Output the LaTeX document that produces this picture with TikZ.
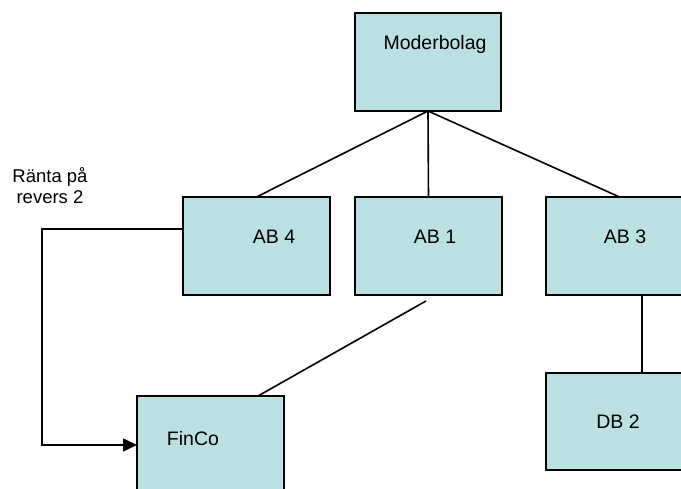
\documentclass[tikz,border=0pt]{standalone}
\usepackage{fontspec}
\setmainfont{Liberation Sans}
\usetikzlibrary{arrows.meta,calc}
\definecolor{boxfill}{RGB}{187,224,227}
\begin{document}
\begin{tikzpicture}[x=1pt,y=-1pt,
  box/.style={draw=black,fill=boxfill,line width=2pt,rectangle,inner sep=0pt,outer sep=0pt},
  lbl/.style={font=\fontsize{19.5}{22}\selectfont,inner sep=0pt,text height=13.5pt,text depth=0pt},
  conn/.style={line width=1.6pt}]
\useasboundingbox (0,0) rectangle (681,489);
\clip (0,0) rectangle (681,489);
\node[box,minimum width=146pt,minimum height=98pt] (mod) at (428,62) {};
\node[box,minimum width=147pt,minimum height=98pt] (ab4) at (256.5,246) {};
\node[box,minimum width=147pt,minimum height=98pt] (ab1) at (428.5,246) {};
\node[box,minimum width=147pt,minimum height=98pt] (ab3) at (619.5,246) {};
\node[box,minimum width=147pt,minimum height=97pt] (db2) at (619.5,421.5) {};
\node[box,minimum width=147pt,minimum height=98pt] (fin) at (210.5,445) {};
\node[lbl] (tmod) at (435,43) {Moderbolag};
\node[lbl] (tab4) at (274,237) {AB 4};
\node[lbl] (tab1) at (435,237) {AB 1};
\node[lbl] (tab3) at (625,237) {AB 3};
\node[lbl] (tdb2) at (618,422) {DB 2};
\node[lbl] (tfin) at (193,439) {FinCo};
\node[font=\fontsize{18.5}{21}\selectfont,align=center,inner sep=0pt] (tranta) at (50,186) {Ränta på\\revers 2};
\draw[conn] (mod.south) -- (ab4.north);
\draw[conn] (mod.south) -- (ab1.north);
\draw[conn] (mod.south) -- (ab3.north);
\coordinate (c1) at (426,301);
\draw[conn] (c1) -- (258,0 |- fin.north);
\draw[conn] (642,0 |- ab3.south) -- (642,0 |- db2.north);
\draw[conn,-{Triangle[length=14pt,width=13pt]}] ([yshift=17pt]ab4.west) -- (42,229) |- (fin.west);
\end{tikzpicture}
\end{document}
